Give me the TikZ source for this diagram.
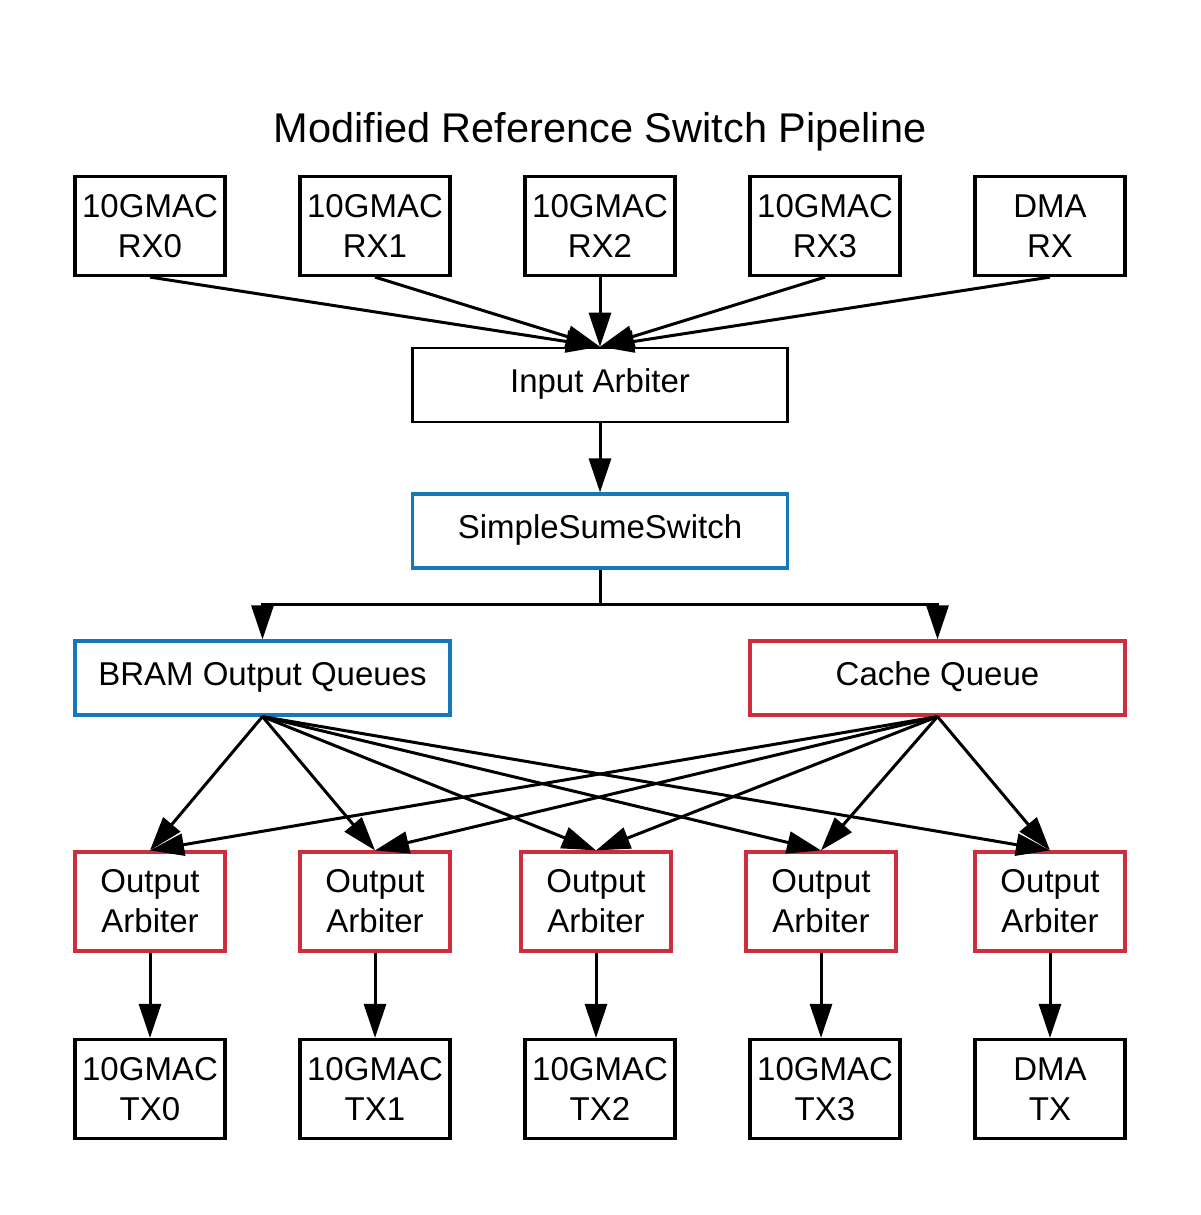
\documentclass[tikz,border=0pt]{standalone}
\usepackage{fontspec}
\setmainfont{Liberation Sans}
\usetikzlibrary{arrows.meta}
\definecolor{bblue}{RGB}{20,120,186}
\definecolor{rred}{RGB}{204,46,62}
\tikzset{
  lbl/.style={font=\fontsize{33}{40}\selectfont, align=center, inner sep=0pt},
  smallbox/.style={lbl, draw, line width=3.2pt, minimum width=150pt, minimum height=99pt},
  widebox/.style={lbl, draw, line width=3.2pt, minimum width=375pt, minimum height=74pt, text height=24pt, text depth=10pt},
  arr/.style={line width=3pt, -{Triangle[length=34pt,width=22pt]}}
}
\begin{document}
\begin{tikzpicture}[x=1pt,y=-1pt]
\useasboundingbox (0,0) rectangle (1200,1215);
\node[font=\fontsize{41.5}{48}\selectfont, inner sep=0pt, anchor=base] (title) at (600,142) {Modified Reference Switch Pipeline};

% RX row
\node[smallbox] (rx0) at (150,226) {10GMAC\\RX0};
\node[smallbox] (rx1) at (375,226) {10GMAC\\RX1};
\node[smallbox] (rx2) at (600,226) {10GMAC\\RX2};
\node[smallbox] (rx3) at (825,226) {10GMAC\\RX3};
\node[smallbox] (dmarx) at (1050,226) {DMA\\RX};

\node[widebox, line width=2.6pt] (ia) at (600,385) {Input Arbiter};
\node[widebox, draw=bblue] (sss) at (600,531) {SimpleSumeSwitch};
\node[widebox, draw=bblue] (bram) at (262.5,678) {BRAM Output Queues};
\node[widebox, draw=rred] (cache) at (937.5,678) {Cache Queue};

% Output arbiters
\node[smallbox, draw=rred] (oa0) at (150,901.5) {Output\\Arbiter};
\node[smallbox, draw=rred] (oa1) at (375,901.5) {Output\\Arbiter};
\node[smallbox, draw=rred] (oa2) at (596,901.5) {Output\\Arbiter};
\node[smallbox, draw=rred] (oa3) at (821,901.5) {Output\\Arbiter};
\node[smallbox, draw=rred] (oa4) at (1050,901.5) {Output\\Arbiter};

% TX row
\node[smallbox] (tx0) at (150,1089) {10GMAC\\TX0};
\node[smallbox] (tx1) at (375,1089) {10GMAC\\TX1};
\node[smallbox] (tx2) at (600,1089) {10GMAC\\TX2};
\node[smallbox] (tx3) at (825,1089) {10GMAC\\TX3};
\node[smallbox] (dmatx) at (1050,1089) {DMA\\TX};

% connectors
\foreach \s in {rx0,rx1,rx2,rx3,dmarx} \draw[arr] (\s.south) -- (ia.north);
\draw[arr] (ia.south) -- (sss.north);
\coordinate (split) at (600,604);
\draw[line width=3pt] (sss.south) -- (split);
\draw[arr] (split) -| (bram.north);
\draw[arr] (split) -| (cache.north);
\foreach \t in {oa0,oa1,oa2,oa3,oa4} {
  \draw[arr] (bram.south) -- (\t.north);
  \draw[arr] (cache.south) -- (\t.north);
}
\draw[arr] (oa0.south) -- (oa0.south |- tx0.north);
\draw[arr] (oa1.south) -- (oa1.south |- tx1.north);
\draw[arr] (oa2.south) -- (oa2.south |- tx2.north);
\draw[arr] (oa3.south) -- (oa3.south |- tx3.north);
\draw[arr] (oa4.south) -- (oa4.south |- dmatx.north);
\end{tikzpicture}
\end{document}
